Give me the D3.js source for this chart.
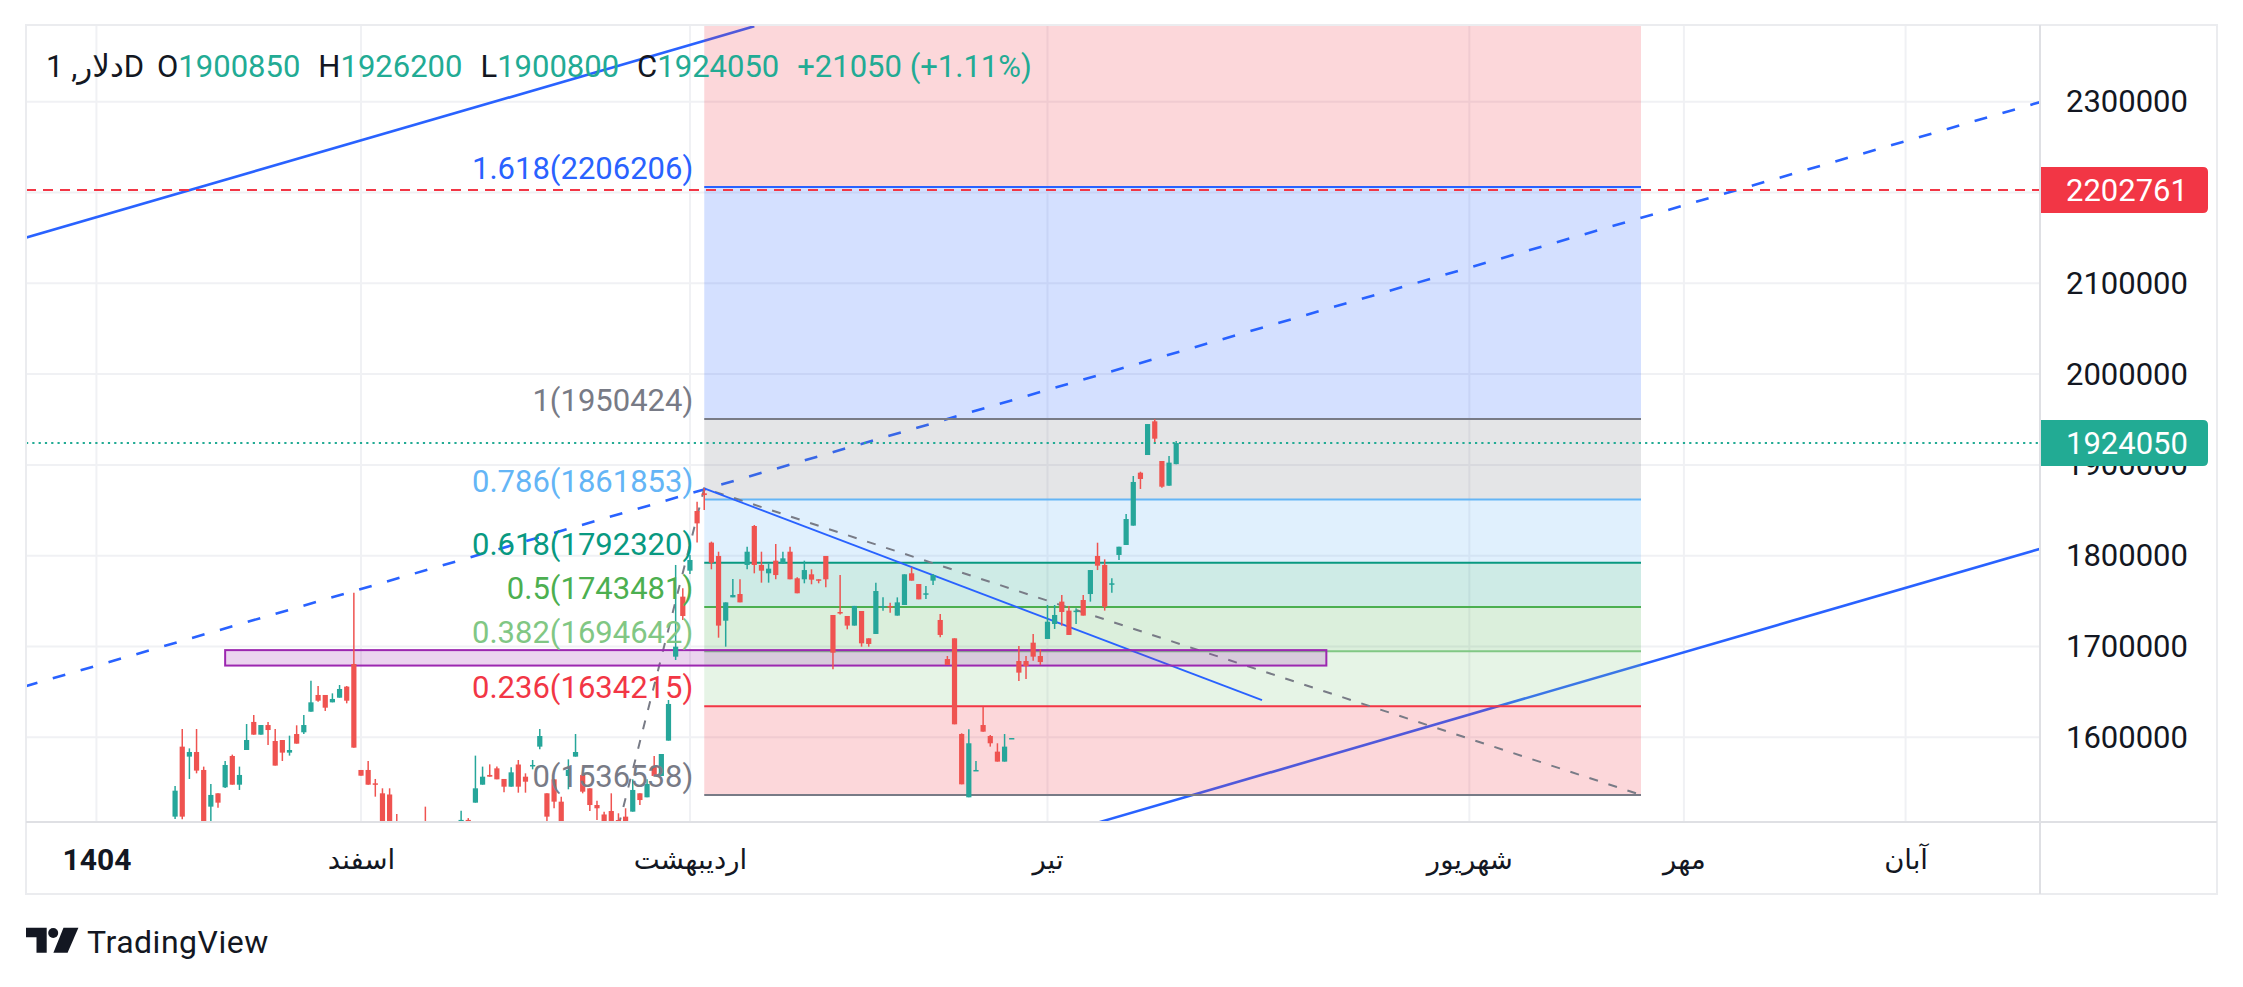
<!DOCTYPE html>
<html>
<head>
<meta charset="utf-8">
<script src="https://cdn.jsdelivr.net/npm/d3@7"></script>
<style>
  html, body { margin: 0; padding: 0; background: #ffffff; }
  svg { display: block; font-family: Roboto, "DejaVu Sans", sans-serif; }
</style>
</head>
<body>
<svg id="chart" width="2243" height="987"></svg>
<script>
/* ===================================
 *  DATA
 * =================================== */
const priceTicks = [1600000, 1700000, 1800000, 1900000, 2000000, 2100000, 2200000, 2300000];
const monthTicks = [-11, 26, 72, 122, 181, 211, 242];
const monthLabels = ["1404", "اسفند", "اردیبهشت", "تیر", "شهریور", "مهر", "آبان"];

const opens = [
  1512600, 1589700, 1578700, 1583800, 1564000, 1523600, 1538300, 1544900, 1579400, 1547800,
  1586000, 1616900, 1602900, 1613500, 1595900, 1597000, 1583100, 1603600, 1605500, 1628200,
  1646600, 1646600, 1638500, 1643600, 1655800, 1680700, 1564000, 1564000, 1549300, 1538300,
  1537000, 1500000, 1490000, 1480000, 1485000, 1500000, 1490000, 1482000, 1490000, 1486000,
  1497000, 1509000, 1528000, 1547800, 1558500, 1565800, 1554100, 1545600, 1570000, 1556600,
  1568800, 1589700, 1538300, 1553700, 1529100, 1557400, 1578700, 1558500, 1543800, 1525400,
  1515000, 1518800, 1508900, 1512600, 1518100, 1538300, 1533900, 1568400, 1557400, 1596300,
  1688800, 1754900, 1783500, 1849200, 1868700, 1814400, 1799700, 1728400, 1754100, 1757800,
  1789800, 1832700, 1789800, 1780600, 1794500, 1791600, 1804400, 1775100, 1774000, 1779500,
  1774000, 1799700, 1734700, 1738000, 1733600, 1723000, 1739100, 1709000, 1713800, 1743100,
  1744600, 1734000, 1745700, 1780600, 1768800, 1757400, 1772500, 1729200, 1686200, 1709000,
  1603600, 1533900, 1562900, 1613500, 1601400, 1584200, 1573200, 1598500, 1684000, 1684000,
  1704200, 1689500, 1708300, 1724800, 1749400, 1739500, 1738400, 1751200, 1757800, 1799700,
  1789800, 1768500, 1800800, 1811800, 1833100, 1891400, 1910900, 1948000, 1904300, 1877100,
  1900850
];
const highs = [
  1546400, 1609100, 1587800, 1609100, 1567700, 1548600, 1538300, 1573900, 1580900, 1567700,
  1614600, 1624600, 1613500, 1616900, 1609100, 1597000, 1601800, 1613200, 1624600, 1662400,
  1656500, 1646600, 1648400, 1657600, 1656500, 1759300, 1564000, 1573900, 1554100, 1543800,
  1543800, 1515500, 1500000, 1495000, 1498000, 1523600, 1500000, 1498000, 1502000, 1504000,
  1519200, 1511000, 1579800, 1567700, 1570200, 1567700, 1554100, 1566900, 1575000, 1560300,
  1575000, 1609100, 1538300, 1553700, 1534600, 1575700, 1603600, 1558500, 1543800, 1530200,
  1518000, 1538300, 1516300, 1521800, 1553700, 1538300, 1553700, 1579400, 1581600, 1641100,
  1789800, 1764100, 1800800, 1859500, 1874200, 1815500, 1804400, 1748600, 1774300, 1774000,
  1809900, 1833800, 1804400, 1791600, 1812900, 1804400, 1809900, 1776200, 1794500, 1785000,
  1774000, 1799700, 1734700, 1778700, 1733600, 1744700, 1739100, 1709000, 1770300, 1754100,
  1748300, 1754100, 1779500, 1787200, 1768800, 1766600, 1779800, 1735800, 1689500, 1709000,
  1604400, 1608800, 1573900, 1633700, 1602500, 1593400, 1603600, 1599200, 1700500, 1689500,
  1713800, 1696900, 1745700, 1745700, 1756700, 1744600, 1742000, 1756700, 1784200, 1814300,
  1796000, 1775100, 1809900, 1845900, 1887800, 1892500, 1945000, 1950424, 1904300, 1909800,
  1926200
];
const lows = [
  1510000, 1509700, 1554100, 1560300, 1490000, 1500000, 1522500, 1544200, 1547800, 1542000,
  1586000, 1602900, 1602900, 1591500, 1568800, 1573900, 1579800, 1593000, 1603600, 1628200,
  1639200, 1629000, 1638500, 1643600, 1637400, 1588600, 1557700, 1547800, 1534600, 1495000,
  1495000, 1485000, 1470000, 1472000, 1470000, 1485000, 1475000, 1476000, 1480000, 1482000,
  1494000, 1495000, 1528000, 1547800, 1556600, 1553700, 1539400, 1545600, 1539000, 1539000,
  1564700, 1586700, 1500000, 1521800, 1495000, 1542700, 1578700, 1538300, 1518800, 1508900,
  1495000, 1500000, 1495000, 1498000, 1518100, 1525400, 1533900, 1557400, 1557400, 1596300,
  1685100, 1729200, 1779800, 1814400, 1850300, 1785000, 1709700, 1699800, 1754100, 1748600,
  1785000, 1780600, 1770300, 1770300, 1774000, 1790900, 1774000, 1758600, 1769600, 1768500,
  1769600, 1765200, 1674900, 1735100, 1718900, 1723000, 1699800, 1699800, 1713800, 1739500,
  1737300, 1734000, 1745700, 1772500, 1751900, 1752300, 1767700, 1710100, 1679600, 1614300,
  1548200, 1533900, 1562900, 1606200, 1589700, 1573200, 1573200, 1598500, 1662000, 1664200,
  1684400, 1679600, 1708300, 1719300, 1722900, 1712700, 1724800, 1734000, 1749400, 1784200,
  1739500, 1759300, 1795300, 1811800, 1833100, 1873500, 1910900, 1923700, 1874900, 1877100,
  1900800
];
const closes = [
  1541200, 1512600, 1583800, 1563300, 1495000, 1536500, 1528000, 1569500, 1547800, 1558500,
  1597000, 1602900, 1613500, 1608000, 1568800, 1583100, 1586000, 1593000, 1613500, 1638500,
  1640300, 1632600, 1642200, 1653200, 1640300, 1588600, 1557700, 1547800, 1548200, 1502000,
  1498000, 1490000, 1480000, 1485000, 1478000, 1490000, 1482000, 1490000, 1486000, 1497000,
  1509000, 1500000, 1543800, 1556600, 1556600, 1553700, 1545600, 1561400, 1545600, 1551100,
  1569500, 1601400, 1512600, 1529100, 1500000, 1564000, 1583800, 1540100, 1525400, 1521800,
  1500000, 1505000, 1500000, 1502000, 1542000, 1530900, 1548600, 1557400, 1581600, 1636700,
  1699800, 1733600, 1795300, 1835600, 1866800, 1792300, 1723000, 1748600, 1756700, 1748600,
  1804400, 1789800, 1783500, 1785700, 1778700, 1797100, 1774000, 1758600, 1784200, 1773600,
  1772500, 1774000, 1693200, 1736900, 1723000, 1744700, 1703500, 1702800, 1761100, 1744600,
  1743100, 1748600, 1779500, 1772500, 1751900, 1758600, 1778700, 1712700, 1679600, 1614300,
  1548200, 1593400, 1564000, 1606200, 1593400, 1573200, 1589700, 1599200, 1671200, 1678500,
  1688800, 1682900, 1727300, 1734700, 1738000, 1712700, 1739500, 1734000, 1784200, 1789000,
  1743900, 1769600, 1809900, 1840400, 1881200, 1884500, 1945000, 1928900, 1876000, 1902500,
  1924050
];

// fibonacci tool: ratios, prices, bar span, trend anchors
const fibRatios = [0, 0.236, 0.382, 0.5, 0.618, 0.786, 1, 1.618, 2.618];
const fibPrices = [1536538, 1634215, 1694642, 1743481, 1792320, 1861853, 1950424, 2206206, 2620111];
const fibSpan = [74, 205];
const fibTrend = [[62, 1502000], [74, 1874200], [205, 1536538]];

// trend lines [barIndex, price]
const channelTop = [[-21, 2150000], [81, 2383000]];
const channelMid = [[-21, 1656000], [261, 2300000]];
const channelLow = [[129, 1506000], [261, 1808000]];
const downTrend = [[74, 1874200], [152, 1641000]];

// zone rectangle
const zoneSpan = [7, 161];
const zonePrices = [1679000, 1696000];

const alertPrice = 2202761;
const lastPrice = 1924050;

const headerSymbol = "دلار, 1D";
const headerKeys = ["O", "H", "L", "C"];
const headerValues = [1900850, 1926200, 1900800, 1924050];
const headerChange = "+21050 (+1.11%)";

/* ===================================
 *  STYLE
 * =================================== */
const UP = "#26a69a";
const DOWN = "#ef5350";
const TEXT = "#131722";
const fibColors = ["#787b86", "#f23645", "#81c784", "#4caf50", "#089981", "#64b5f6", "#787b86", "#2962ff", "#f23645"];

class ChartPage {
  /* ===================================
   *  CONSTRUCTOR
   * =================================== */
  constructor() {
    this.svg = d3.select("#chart");
    this.left = 26;
    this.top = 25;
    this.right = 2040;
    this.bottom = 822;
    this.setupScales();
    this.drawChart();
  }

  /* ===================================
   *  METHODS
   * =================================== */
  setupScales() {
    this.x = d3.scaleLinear().domain([-20.85, 260.8]).range([this.left, this.right]);
    this.y = d3.scaleLinear().domain([1506700, 2384500]).range([this.bottom, this.top]);
  }

  drawChart() {
    this.svg.append("rect").attr("width", 2243).attr("height", 987).attr("fill", "#fff");

    this.svg.append("defs").append("clipPath").attr("id", "plot-clip")
      .append("rect")
      .attr("x", this.left).attr("y", this.top)
      .attr("width", this.right - this.left).attr("height", this.bottom - this.top);

    this.plot = this.svg.append("g").attr("clip-path", "url(#plot-clip)");

    this.DrawGrid();
    this.DrawChannel();
    this.DrawFib();
    this.DrawDrawings();
    this.DrawCandles();
    this.DrawPriceLines();
    this.DrawAxes();
    this.DrawFrame();
    this.DrawHeader();
    this.DrawLogo();
  }

  DrawGrid() {
    const g = this.plot.append("g").attr("stroke", "#f0f1f4").attr("stroke-width", 2);
    g.selectAll("line.h").data(priceTicks).join("line")
      .attr("x1", this.left).attr("x2", this.right)
      .attr("y1", d => this.y(d)).attr("y2", d => this.y(d));
    g.selectAll("line.v").data(monthTicks).join("line")
      .attr("x1", d => this.x(d)).attr("x2", d => this.x(d))
      .attr("y1", this.top).attr("y2", this.bottom);
  }

  linePath(points) {
    return d3.line().x(d => this.x(d[0])).y(d => this.y(d[1]))(points);
  }

  DrawChannel() {
    const g = this.plot.append("g").attr("fill", "none").attr("stroke", "#2962ff").attr("stroke-width", 2.6);
    g.append("path").attr("d", this.linePath(channelTop));
    g.append("path").attr("d", this.linePath(channelLow));
    g.append("path").attr("d", this.linePath(channelMid)).attr("stroke-dasharray", "13,16");
  }

  DrawFib() {
    const x0 = this.x(fibSpan[0]);
    const x1 = this.x(fibSpan[1]);
    const g = this.plot.append("g");

    // bands between levels, tinted with the upper level colour
    const bands = d3.range(fibPrices.length - 1);
    g.selectAll("rect.band").data(bands).join("rect")
      .attr("x", x0).attr("width", x1 - x0)
      .attr("y", i => this.y(fibPrices[i + 1]))
      .attr("height", i => this.y(fibPrices[i]) - this.y(fibPrices[i + 1]))
      .attr("fill", i => fibColors[i + 1])
      .attr("fill-opacity", 0.2);

    g.selectAll("line.level").data(d3.range(fibPrices.length)).join("line")
      .attr("x1", x0).attr("x2", x1)
      .attr("y1", i => this.y(fibPrices[i])).attr("y2", i => this.y(fibPrices[i]))
      .attr("stroke", i => fibColors[i]).attr("stroke-width", 2);

    g.append("path")
      .attr("d", this.linePath(fibTrend))
      .attr("fill", "none").attr("stroke", "#787b86")
      .attr("stroke-width", 2).attr("stroke-dasharray", "9,11");

    this.fibLabels = this.svg.append("g")
      .attr("font-size", 31).attr("text-anchor", "end");
    this.fibLabels.selectAll("text").data(d3.range(fibPrices.length - 1)).join("text")
      .attr("x", x0 - 11)
      .attr("y", i => this.y(fibPrices[i]) - 8)
      .attr("fill", i => fibColors[i])
      .text(i => `${fibRatios[i]}(${fibPrices[i]})`);
  }

  DrawDrawings() {
    this.plot.append("path")
      .attr("d", this.linePath(downTrend))
      .attr("fill", "none").attr("stroke", "#2962ff").attr("stroke-width", 1.8);

    this.plot.append("rect")
      .attr("x", this.x(zoneSpan[0])).attr("width", this.x(zoneSpan[1]) - this.x(zoneSpan[0]))
      .attr("y", this.y(zonePrices[1])).attr("height", this.y(zonePrices[0]) - this.y(zonePrices[1]))
      .attr("fill", "#9c27b0").attr("fill-opacity", 0.2)
      .attr("stroke", "#9c27b0").attr("stroke-width", 2);
  }

  DrawCandles() {
    const bars = opens.map((o, i) => ({ i, o, h: highs[i], l: lows[i], c: closes[i] }));
    const g = this.plot.append("g");
    const candle = g.selectAll("g").data(bars).join("g")
      .attr("fill", d => (d.c >= d.o ? UP : DOWN))
      .attr("stroke", d => (d.c >= d.o ? UP : DOWN));

    candle.append("line")
      .attr("x1", d => this.x(d.i)).attr("x2", d => this.x(d.i))
      .attr("y1", d => this.y(d.h)).attr("y2", d => this.y(d.l))
      .attr("stroke-width", 1.5);

    candle.append("rect")
      .attr("stroke", "none")
      .attr("x", d => this.x(d.i) - 2.6).attr("width", 5.2)
      .attr("y", d => this.y(Math.max(d.o, d.c)))
      .attr("height", d => Math.max(1.5, Math.abs(this.y(d.o) - this.y(d.c))));
  }

  DrawPriceLines() {
    this.plot.append("line")
      .attr("x1", this.left).attr("x2", this.right)
      .attr("y1", this.y(alertPrice)).attr("y2", this.y(alertPrice))
      .attr("stroke", "#f23645").attr("stroke-width", 2).attr("stroke-dasharray", "10,7");

    this.plot.append("line")
      .attr("x1", this.left).attr("x2", this.right)
      .attr("y1", this.y(lastPrice)).attr("y2", this.y(lastPrice))
      .attr("stroke", "#22ab94").attr("stroke-width", 2).attr("stroke-dasharray", "2.2,4.1");
  }

  DrawAxes() {
    const priceAxis = d3.axisRight(this.y).tickValues(priceTicks).tickSize(0).tickPadding(26)
      .tickFormat(d3.format("d"));
    const pa = this.svg.append("g").attr("transform", `translate(${this.right},0)`).call(priceAxis);
    pa.select(".domain").remove();
    pa.attr("font-size", 31).attr("font-family", null);
    pa.selectAll("text").attr("fill", TEXT);

    const timeAxis = d3.axisBottom(this.x).tickValues(monthTicks).tickSize(0).tickPadding(27)
      .tickFormat((d, i) => monthLabels[i]);
    const ta = this.svg.append("g").attr("transform", `translate(0,${this.bottom})`).call(timeAxis);
    ta.select(".domain").remove();
    ta.attr("font-size", 30).attr("font-family", null);
    ta.selectAll("text").attr("fill", TEXT)
      .attr("font-size", d => (d === monthTicks[0] ? 30 : 27.5))
      .attr("font-weight", d => (d === monthTicks[0] ? 700 : 400));

    // price boxes on the scale
    const boxes = [
      { v: alertPrice, color: "#f23645" },
      { v: lastPrice, color: "#22ab94" }
    ];
    const bx = this.svg.append("g");
    bx.selectAll("path").data(boxes).join("path")
      .attr("fill", d => d.color)
      .attr("d", d => {
        const yc = this.y(d.v), x0 = this.right - 1, x1 = 2208, r = 5;
        return `M${x0},${yc - 23}H${x1 - r}Q${x1},${yc - 23} ${x1},${yc - 23 + r}V${yc + 23 - r}Q${x1},${yc + 23} ${x1 - r},${yc + 23}H${x0}Z`;
      });
    bx.selectAll("text").data(boxes).join("text")
      .attr("x", this.right + 26).attr("y", d => this.y(d.v)).attr("dy", "0.36em")
      .attr("fill", "#fff").attr("font-size", 31)
      .text(d => d.v);
  }

  DrawFrame() {
    const g = this.svg.append("g").attr("fill", "none");
    g.append("rect").attr("x", this.left).attr("y", this.top)
      .attr("width", 2217 - this.left).attr("height", 894 - this.top)
      .attr("stroke", "#ebecef").attr("stroke-width", 2);
    g.append("line").attr("x1", this.left).attr("x2", 2217)
      .attr("y1", this.bottom).attr("y2", this.bottom)
      .attr("stroke", "#dfe0e4").attr("stroke-width", 2);
    g.append("line").attr("x1", this.right).attr("x2", this.right)
      .attr("y1", this.top).attr("y2", 894)
      .attr("stroke", "#dfe0e4").attr("stroke-width", 2);
  }

  DrawHeader() {
    const base = 77;
    const sym = this.svg.append("text")
      .attr("x", 46).attr("y", base).attr("font-size", 31).attr("fill", TEXT)
      .text(headerSymbol);
    const cx = 46 + sym.node().getComputedTextLength() + 13;

    const t = this.svg.append("text")
      .attr("x", cx).attr("y", base).attr("font-size", 31);
    headerKeys.forEach((k, i) => {
      t.append("tspan").attr("fill", TEXT).attr("dx", i === 0 ? 0 : 18).text(k);
      t.append("tspan").attr("fill", "#22ab94").text(headerValues[i]);
    });
    t.append("tspan").attr("fill", "#22ab94").attr("dx", 18).text(headerChange);
  }

  DrawLogo() {
    const g = this.svg.append("g").attr("fill", TEXT);
    g.append("path").attr("d", "M26,927.7H46.7V952.7H36.5V937.2H26Z");
    g.append("circle").attr("cx", 53.2).attr("cy", 933).attr("r", 5);
    g.append("path").attr("d", "M63.5,927.7H78.4L67.6,952.7H53.4Z");
    g.append("text").attr("x", 87).attr("y", 953)
      .attr("font-size", 32).attr("letter-spacing", 0.5).text("TradingView");
  }
}

new ChartPage();
</script>
</body>
</html>
